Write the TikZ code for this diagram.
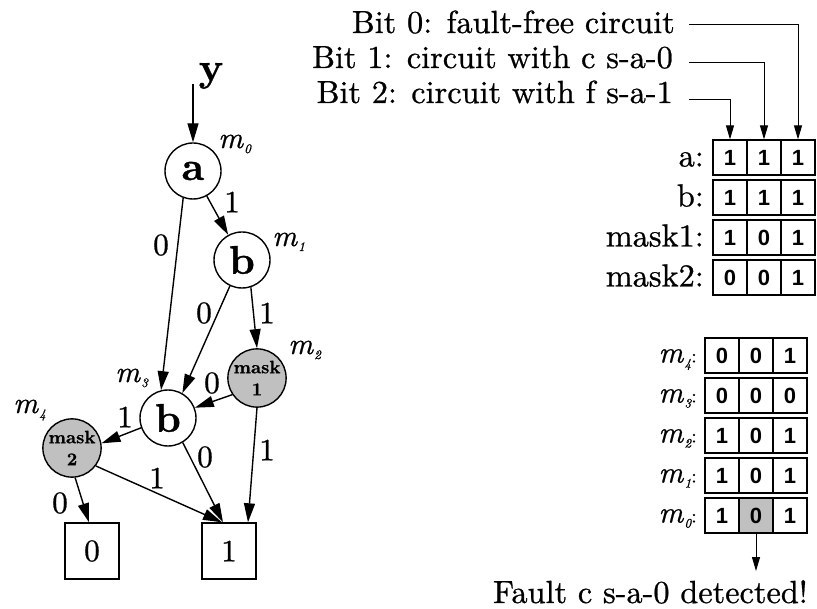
\documentclass[tikz,border=0pt]{standalone}
\usepackage{fontspec}
\setmainfont{lmroman10-regular.otf}[BoldFont=lmroman10-bold.otf, ItalicFont=lmroman10-italic.otf, BoldItalicFont=lmroman10-bolditalic.otf, FakeStretch=1.01, FakeBold=0.8]
\newfontfamily\cellfont{Liberation Sans}
\usetikzlibrary{arrows.meta,shapes.geometric}
\definecolor{maskgray}{RGB}{192,192,192}
\newcommand\TxtBig{\fontsize{32}{38}\selectfont}
\newcommand\EdgeFont{\fontsize{31}{36}\selectfont}
\newcommand\MSub[1]{\textit{m}\kern0.5pt\raisebox{-5pt}{\fontsize{13}{13}\selectfont\itshape #1}}
\newcommand\MRow[1]{\textit{m}\kern0.5pt\raisebox{-5pt}{\fontsize{13}{13}\selectfont\itshape #1}{\fontsize{20}{20}\selectfont :}}
\begin{document}
\begin{tikzpicture}[x=1pt,y=-1pt,
  >={Triangle[length=19pt,width=11pt]},
  vnode/.style={circle,draw,line width=1.4pt,minimum size=56pt,inner sep=0pt,font=\fontsize{40}{40}\selectfont\bfseries},
  masknode/.style={vnode,fill=maskgray,font=\fontsize{18}{22}\selectfont\bfseries,align=center},
  leaf/.style={draw,line width=1.4pt,minimum width=54pt,minimum height=56pt,inner sep=0pt,font=\EdgeFont},
  edge/.style={->,line width=1.4pt},
  elabel/.style={inner sep=0pt,font=\EdgeFont},
  mlabel/.style={inner sep=0pt,anchor=base west,font=\fontsize{30}{30}\selectfont},
  cell/.style={draw,line width=1.2pt,minimum width=34pt,minimum height=35pt,inner sep=0pt,font=\cellfont\bfseries\fontsize{22}{22}\selectfont},
  gcell/.style={cell,fill=maskgray},
  rlabel/.style={inner sep=0pt,anchor=base east,font=\TxtBig},
  mrlabel/.style={inner sep=0pt,anchor=base east,font=\fontsize{30}{30}\selectfont},
  bitline/.style={line width=1pt,-{Triangle[length=14pt,width=8pt]}},
]
\useasboundingbox (0,0) rectangle (817,609);

% ---- graph ----
\node[inner sep=0pt,font=\fontsize{40}{40}\selectfont\bfseries] (ylab) at (211,76) {y};
\coordinate (ystart) at (193,84);
\node[vnode] (a) at (193,171) {a};
\node[vnode] (b1) at (242,260) {b};
\node[masknode] (mask1) at (257,378) {mask\\1};
\node[vnode] (b3) at (168,418) {b};
\node[masknode] (mask2) at (72,448) {mask\\2};
\node[leaf] (box0) at (92,551) {0};
\node[leaf] (box1) at (229,551) {1};

\node[mlabel] (m0) at (218,148) {\MSub{0}};
\node[mlabel] (m1) at (272,246) {\MSub{1}};
\node[mlabel] (m2) at (288,354) {\MSub{2}};
\node[mlabel] (m3) at (115,382) {\MSub{3}};
\node[mlabel] (m4) at (13,413) {\MSub{4}};

\draw[edge] (ystart) -- (a);
\draw[edge] (a) -- (b1);
\draw[edge] (a.250) -- (b3.104);
\draw[edge] (b1.245) -- (b3.60);
\draw[edge] (b1.288) -- (mask1.north);
\draw[edge] (mask1.214) -- (b3.21);
\draw[edge] (b3.200) -- (mask2.9);
\draw[edge] (b3.301) -- ([xshift=-6pt]box1.north);
\draw[edge] (mask1.south) -- ([xshift=19pt]box1.north);
\draw[edge] (mask2.323) -- ([xshift=-7pt]box1.north);
\draw[edge] (mask2.276) -- ([xshift=-3pt]box0.north);

\node[elabel] (l1) at (232,202) {1};
\node[elabel] (l2) at (161,245) {0};
\node[elabel] (l3) at (204,313) {0};
\node[elabel] (l4) at (267,313) {1};
\node[elabel] (l5) at (212,383) {0};
\node[elabel] (l6) at (125,417) {1};
\node[elabel] (l7) at (205,457) {0};
\node[elabel] (l8) at (267,450) {1};
\node[elabel] (l9) at (157,478) {1};
\node[elabel] (l10) at (60,503) {0};

% ---- bit legend ----
\node[rlabel] (bit0) at (675,33) {Bit 0: fault-free circuit};
\node[rlabel] (bit1) at (673,68) {Bit 1: circuit with c s-a-0};
\node[rlabel] (bit2) at (673,103) {Bit 2: circuit with f s-a-1};

% ---- top grid ----
\foreach \nm/\lab/\yy/\va/\vb/\vc in {ra/a:/157.5/1/1/1, rb/b:/197.5/1/1/1, rm1/mask1:/237.5/1/0/1, rm2/mask2:/277.5/0/0/1}{
  \node[cell] (\nm-1) at (730,\yy) {\va};
  \node[cell] (\nm-2) at (764,\yy) {\vb};
  \node[cell] (\nm-3) at (798,\yy) {\vc};
  \node[rlabel] (\nm-l) at (704,\yy+9) {\lab};
}

\coordinate (s0) at (689,25);
\coordinate (s1) at (689,63);
\coordinate (s2) at (689,100);
\draw[bitline] (s0) -| (ra-3);
\draw[bitline] (s1) -| (ra-2);
\draw[bitline] (s2) -| (ra-1);

% ---- bottom grid ----
\foreach \nm/\sub/\yy/\va/\vb/\vc in {q4/4/355.5/0/0/1, q3/3/395.5/0/0/0, q2/2/435.5/1/0/1, q1/1/475.5/1/0/1}{
  \node[cell] (\nm-1) at (722,\yy) {\va};
  \node[cell] (\nm-2) at (756,\yy) {\vb};
  \node[cell] (\nm-3) at (790,\yy) {\vc};
  \node[mrlabel] (\nm-l) at (697,\yy+7) {\MRow{\sub}};
}
\node[cell] (q0-1) at (722,515.5) {1};
\node[gcell] (q0-2) at (756,515.5) {0};
\node[cell] (q0-3) at (790,515.5) {1};
\node[mrlabel] (q0-l) at (697,522.5) {\MRow{0}};

\coordinate (det) at (756,571);
\draw[bitline] (q0-2) -- (det);
\node[inner sep=0pt,anchor=base east,font=\TxtBig] (fault) at (808,603) {Fault c s-a-0 detected!};
\end{tikzpicture}
\end{document}
